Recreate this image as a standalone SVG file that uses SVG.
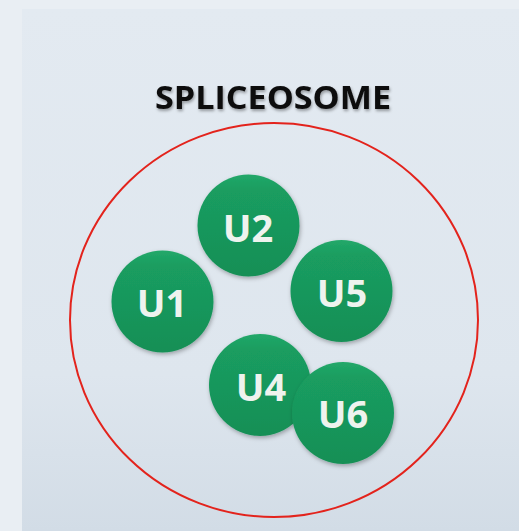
<svg xmlns="http://www.w3.org/2000/svg" width="519" height="531" viewBox="0 0 519 531">
  <defs>
    <linearGradient id="bg" x1="0" y1="0" x2="0" y2="1">
      <stop offset="0" stop-color="#e3eaf1"/>
      <stop offset="0.7" stop-color="#dee6ee"/>
      <stop offset="1" stop-color="#d2dce6"/>
    </linearGradient>
    <linearGradient id="ball" x1="0" y1="0" x2="0" y2="1">
      <stop offset="0" stop-color="#22a869"/>
      <stop offset="0.15" stop-color="#1a9d60"/>
      <stop offset="1" stop-color="#168f56"/>
    </linearGradient>
    <filter id="sh" x="-20%" y="-20%" width="140%" height="140%">
      <feDropShadow dx="1" dy="2" stdDeviation="2" flood-color="#000" flood-opacity="0.3"/>
    </filter>
    <filter id="tsh" x="-10%" y="-30%" width="120%" height="160%">
      <feDropShadow dx="1" dy="2" stdDeviation="1.5" flood-color="#000" flood-opacity="0.35"/>
    </filter>
  </defs>
  <style>
    .ball { fill: url(#ball); filter: url(#sh); }
    .lbl { font-family: "Open Sans", "Liberation Sans", sans-serif; font-weight: bold; font-size: 38px; fill: #eef3ee; text-anchor: middle; }
    .title { font-family: "Open Sans", "Liberation Sans", sans-serif; font-weight: bold; font-size: 33px; fill: #0d0d0d; text-anchor: middle; filter: url(#tsh); }
  </style>
  <rect x="0" y="0" width="519" height="531" fill="#e9eef3"/>
  <rect x="22" y="9" width="497" height="522" fill="url(#bg)"/>
  <text class="title" x="273" y="109" textLength="236" lengthAdjust="spacingAndGlyphs">SPLICEOSOME</text>
  <ellipse id="boundary" cx="274" cy="320" rx="204" ry="197" fill="none" stroke="#e3231c" stroke-width="2"/>
  <g id="U2"><circle class="ball" cx="248.5" cy="225.5" r="51"/><text class="lbl" x="248" y="242">U2</text></g>
  <g id="U1"><circle class="ball" cx="162.5" cy="301.5" r="51"/><text class="lbl" x="162" y="317">U1</text></g>
  <g id="U5"><circle class="ball" cx="341.5" cy="291" r="51"/><text class="lbl" x="342" y="307">U5</text></g>
  <g id="U4"><circle class="ball" cx="260" cy="385" r="51"/><text class="lbl" x="261" y="401">U4</text></g>
  <g id="U6"><circle class="ball" cx="343" cy="413" r="51"/><text class="lbl" x="343" y="428">U6</text></g>
  <g id="connectors"></g>
</svg>
